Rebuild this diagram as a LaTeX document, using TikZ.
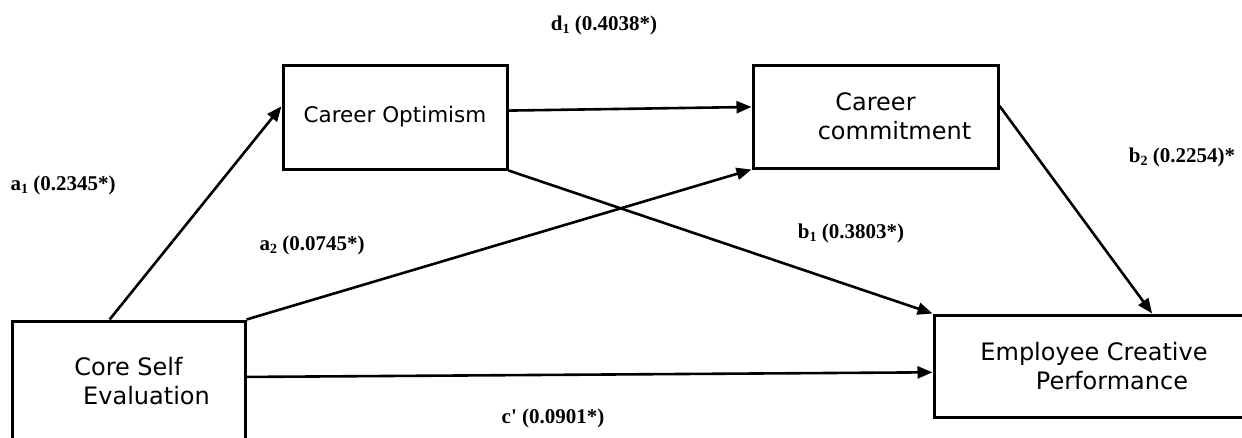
\documentclass[tikz,border=0pt]{standalone}
\usepackage{fontspec}
\setmainfont{DejaVu Sans}
\newfontfamily\lblfont{Liberation Serif}
\usetikzlibrary{calc,arrows.meta}
\newcommand{\subnum}[1]{\raisebox{-3.5pt}{\fontsize{14}{14}\selectfont #1}}
\tikzset{
  boxnode/.style={draw, line width=3pt, rectangle, inner sep=0pt, align=center,
    font=\fontsize{24}{28.5}\selectfont},
  arr/.style={line width=2.6pt, -{Triangle[length=15pt,width=12pt]}},
  lbl/.style={inner sep=0pt, font=\lblfont\bfseries\fontsize{21}{24}\selectfont}
}
\begin{document}
\begin{tikzpicture}[x=1pt,y=-1pt]
\clip (0,0) rectangle (1242,437);
\fill[white] (0,0) rectangle (1242,437);
\node[boxnode, minimum width=233pt, minimum height=120pt] (cse) at (128.5,381) {Core Self\\\hspace*{36pt}Evaluation};
\node[boxnode, minimum width=224pt, minimum height=104pt, font=\fontsize{21.5}{26}\selectfont] (co) at (395,117) {Career Optimism};
\node[boxnode, minimum width=245pt, minimum height=103pt] (cc) at (875.5,116.5) {Career\\\hspace*{38pt}commitment};
\node[boxnode, minimum width=320pt, minimum height=102pt] (ecp) at (1094,366) {Employee Creative\\\hspace*{36pt}Performance};

\draw[arr] ($(cse.north west)!0.42!(cse.north east)$) -- ($(co.north west)!0.4!(co.south west)$);
\draw[arr] (cse.north east) -- (cc.south west);
\draw[arr] ($(cse.north east)!0.467!(cse.south east)$) -- ($(ecp.north west)!0.56!(ecp.south west)$);
\draw[arr] ($(co.north east)!0.44!(co.south east)$) -- ($(cc.north west)!0.41!(cc.south west)$);
\draw[arr] (co.south east) -- (ecp.north west);
\draw[arr] ($(cc.north east)!0.4!(cc.south east)$) -- ($(ecp.north west)!0.68!(ecp.north east)$);

\node[lbl] (ld) at (604,25) {d\subnum{1} (0.4038*)};
\node[lbl] (la1) at (63,185) {a\subnum{1} (0.2345*)};
\node[lbl] (la2) at (312,245) {a\subnum{2} (0.0745*)};
\node[lbl] (lb1) at (851,233) {b\subnum{1} (0.3803*)};
\node[lbl] (lb2) at (1182,157) {b\subnum{2} (0.2254)*};
\node[lbl] (lc) at (553,418) {c\textquotesingle{} (0.0901*)};
\end{tikzpicture}
\end{document}
